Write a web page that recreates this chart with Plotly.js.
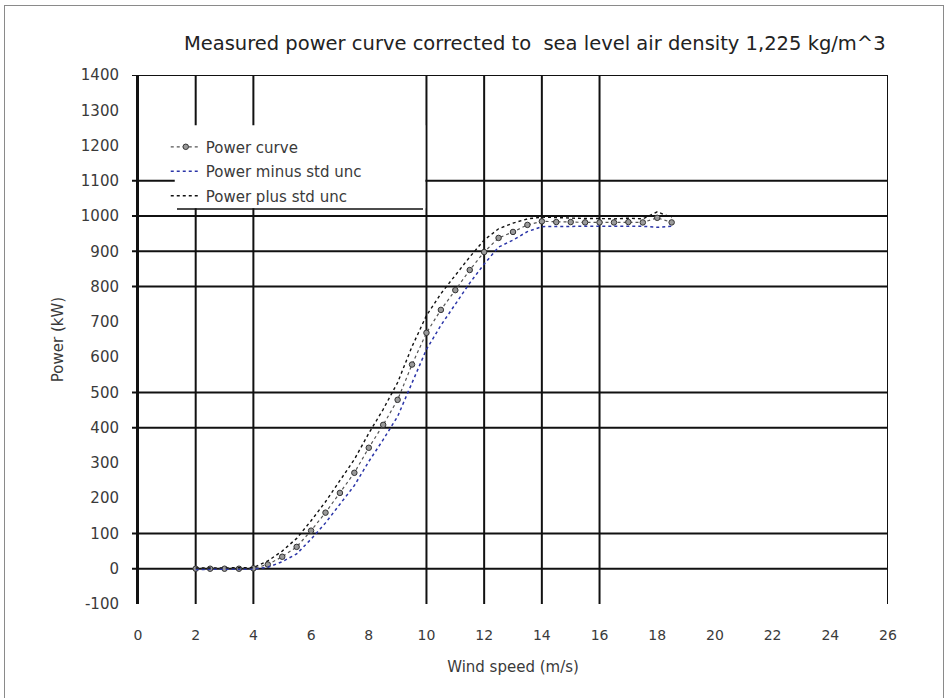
<!DOCTYPE html>
<html>
<head>
<meta charset="utf-8">
<script src="https://cdn.plot.ly/plotly-3.0.1.min.js"></script>
<style>
  html, body { margin: 0; padding: 0; background: #fff; }
  #wrap { position: relative; width: 946px; height: 698px; overflow: hidden; }
  #frame { position: absolute; left: 4px; top: 5px; width: 938px; height: 720px; border: 1px solid #8a8a8a; pointer-events: none; }
  #chart { position: absolute; left: 0; top: 0; width: 946px; height: 698px; }
</style>
</head>
<body>
<div id="wrap">
  <div id="chart"></div>
  <div id="frame"></div>
</div>
<script>
// Wind speed bins (m/s)
const windSpeed = [2, 2.5, 3, 3.5, 4, 4.5, 5, 5.5, 6, 6.5, 7, 7.5, 8, 8.5, 9, 9.5, 10,
  10.5, 11, 11.5, 12, 12.5, 13, 13.5, 14, 14.5, 15, 15.5, 16, 16.5, 17, 17.5, 18, 18.5];

// Bin-averaged power (kW)
const powerCurve = [0, 0, 0, 0, 1, 12, 34, 62, 108, 159, 215, 272, 343, 408, 479, 579, 669,
  734, 790, 847, 898, 938, 955, 975, 985, 983, 983, 982, 982, 982, 983, 982, 995, 982];

// Power plus standard uncertainty (kW)
const powerPlus = [2, 2, 2, 2, 3, 22, 50, 86, 136, 190, 250, 310, 384, 452, 528, 630, 718,
  780, 832, 884, 932, 964, 980, 992, 997, 995, 994, 993, 993, 992, 994, 992, 1012, 996];

// Power minus standard uncertainty (kW)
const powerMinus = [-2, -2, -2, -2, -1, 4, 20, 42, 84, 130, 182, 236, 304, 366, 432, 528, 622,
  690, 750, 810, 864, 912, 932, 956, 970, 971, 972, 971, 971, 971, 972, 971, 968, 971];

// Axis ticks
const xTicks = [0, 2, 4, 6, 8, 10, 12, 14, 16, 18, 20, 22, 24, 26];
const yTicks = [-100, 0, 100, 200, 300, 400, 500, 600, 700, 800, 900, 1000, 1100, 1200, 1300, 1400];

// Reference lines drawn across the plot
const xGrid = [0, 2, 4, 10, 12, 14, 16, 26];
const yGrid = [0, 100, 400, 500, 800, 900, 1000, 1100, 1400];

const font = 'Liberation Sans, Arial, sans-serif';
const wideFont = 'DejaVu Sans, Verdana, sans-serif';
const textColor = '#3a3a3a';

const traces = [
  {
    name: 'Power curve', legendgroup: 'a',
    x: windSpeed, y: powerCurve,
    mode: 'lines+markers',
    line: { color: '#555555', width: 1.2, dash: 'dot' },
    marker: { symbol: 'circle', size: 5.5, color: '#9a9a9a', line: { color: '#333333', width: 1 } }
  },
  {
    name: 'Power minus std unc', legendgroup: 'b',
    x: windSpeed, y: powerMinus,
    mode: 'lines',
    line: { color: '#2b35a8', width: 1.5, dash: 'dot' }
  },
  {
    name: 'Power plus std unc', legendgroup: 'c',
    x: windSpeed, y: powerPlus,
    mode: 'lines',
    line: { color: '#111111', width: 1.4, dash: 'dot' }
  }
];

const shapes = [];
xGrid.forEach(v => shapes.push({
  type: 'line', layer: 'below', xref: 'x', yref: 'paper',
  x0: v, x1: v, y0: 0, y1: 1,
  line: { color: '#111111', width: 2 }
}));
yGrid.forEach(v => shapes.push({
  type: 'line', layer: 'below', xref: 'paper', yref: 'y',
  x0: -0.008, x1: 1, y0: v, y1: v,
  line: { color: '#111111', width: 2 }
}));
// Legend panel and its underline
shapes.push({
  type: 'rect', layer: 'above', xref: 'paper', yref: 'paper',
  x0: 0.049, x1: 0.383, y0: 0.748, y1: 0.905,
  fillcolor: '#ffffff', line: { width: 0 }
});
shapes.push({
  type: 'line', layer: 'above', xref: 'paper', yref: 'paper',
  x0: 0.052, x1: 0.38, y0: 0.7467, y1: 0.7467,
  line: { color: '#111111', width: 1.5 }
});

const layout = {
  width: 946, height: 698,
  margin: { l: 138, r: 58, t: 75, b: 94 },
  paper_bgcolor: '#ffffff', plot_bgcolor: '#ffffff',
  font: { family: font, color: textColor, size: 14 },
  showlegend: true,
  title: {
    text: 'Measured power curve corrected to  sea level air density 1,225 kg/m^3',
    font: { family: wideFont, size: 19.5, color: '#222222' },
    x: 0.529, xanchor: 'center', xref: 'paper',
    y: 0.938, yanchor: 'middle'
  },
  xaxis: {
    range: [0, 26], tickvals: xTicks, ticktext: xTicks.map(String),
    showgrid: false, zeroline: false, showline: false, ticks: '',
    ticklabelstandoff: 21,
    tickfont: { family: wideFont, size: 14, color: textColor },
    title: { text: 'Wind speed (m/s)', font: { family: wideFont, size: 15, color: textColor }, standoff: 19 },
    fixedrange: true
  },
  yaxis: {
    range: [-100, 1400], tickvals: yTicks, ticktext: yTicks.map(String),
    showgrid: false, zeroline: false, showline: true, linecolor: '#111111', linewidth: 2,
    ticks: '', ticklabelstandoff: 14,
    tickfont: { family: wideFont, size: 15, color: textColor },
    title: { text: 'Power (kW)', font: { family: wideFont, size: 15, color: textColor }, standoff: 14 },
    fixedrange: true
  },
  legend: {
    x: 0.037, y: 0.895, xanchor: 'left', yanchor: 'top',
    bgcolor: 'rgba(0,0,0,0)', borderwidth: 0,
    font: { family: wideFont, size: 15, color: textColor },
    itemwidth: 30, tracegroupgap: 2
  },
  shapes: shapes
};

Plotly.newPlot('chart', traces, layout, { displayModeBar: false, staticPlot: true });
</script>
</body>
</html>
